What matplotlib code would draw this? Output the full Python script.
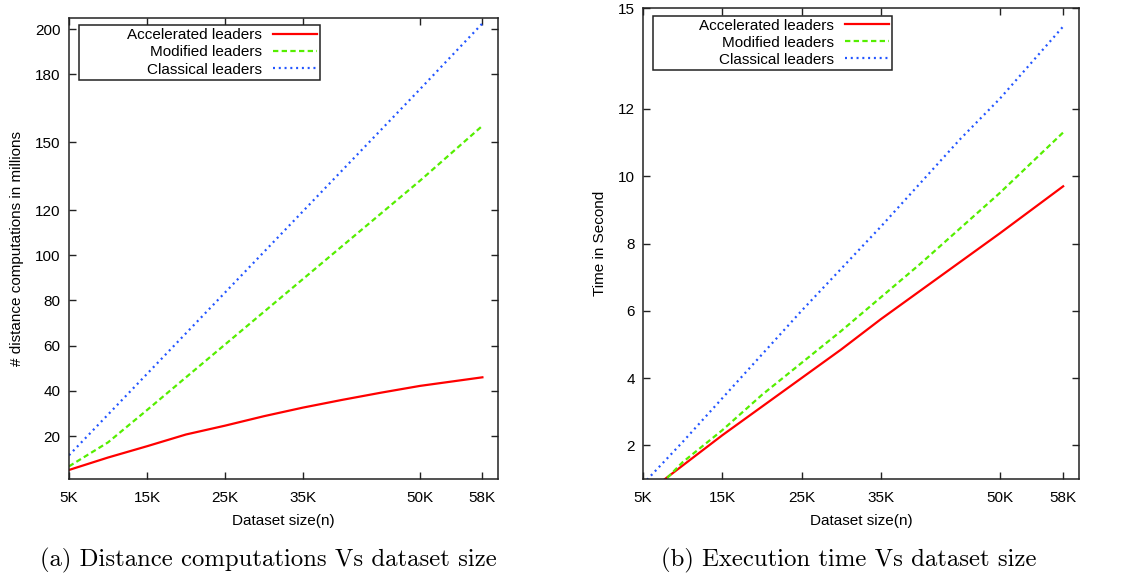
import matplotlib
matplotlib.use("Agg")
import matplotlib.pyplot as plt
from matplotlib.patches import Rectangle

plt.rcParams['font.family'] = ['Liberation Sans', 'DejaVu Sans']

# dataset sizes (in K)
sizes = [5, 10, 15, 20, 25, 30, 35, 40, 45, 50, 58]
xticks = [5, 15, 25, 35, 50, 58]
xticklabels = ["5K", "15K", "25K", "35K", "50K", "58K"]

# (a) distance computations in millions
dist_accel = [5.0, 10.5, 15.5, 20.7, 24.6, 28.8, 32.6, 36.0, 39.2, 42.2, 46.0]
dist_modif = [6.6, 17.2, 31.5, 46.0, 60.5, 75.0, 89.5, 104.0, 118.5, 133.0, 157.3]
dist_class = [11.5, 29.5, 47.5, 65.5, 83.5, 101.5, 119.5, 137.5, 155.5, 173.5, 202.6]
dist_yticks = [20, 40, 60, 80, 100, 120, 150, 180, 200]

# (b) execution time in seconds
time_accel = [0.5, 1.4, 2.3, 3.15, 4.0, 4.85, 5.75, 6.6, 7.45, 8.3, 9.7]
time_modif = [0.3, 1.5, 2.45, 3.5, 4.45, 5.4, 6.4, 7.4, 8.45, 9.5, 11.3]
time_class = [0.85, 2.1, 3.4, 4.7, 6.0, 7.25, 8.5, 9.8, 11.1, 12.3, 14.45]
time_yticks = [2, 4, 6, 8, 10, 12, 15]

labels = ["Accelerated leaders", "Modified leaders", "Classical leaders"]
colors = ["#ff0000", "#55ee00", "#2255ff"]
styles = ["-", (0, (2.4, 1.5)), (0, (0.9, 1.7))]

W, H = 1123, 580
fig = plt.figure(figsize=(W / 100, H / 100), dpi=100)
edge = "#222222"


def panel(rect, ys, yticks, ylim, ylabel, caption, cap_x, key_x):
    l, t, r, b = rect
    ax = fig.add_axes([l / W, 1 - b / H, (r - l) / W, (b - t) / H])
    for y, lab, c, ls in zip(ys, labels, colors, styles):
        ax.plot(sizes, y, color=c, linestyle=ls, linewidth=1.6, label=lab)
    ax.set_xlim(5, 60)
    ax.set_ylim(*ylim)
    ax.set_xticks(xticks)
    ax.set_xticklabels(xticklabels)
    ax.set_yticks(yticks)
    ax.tick_params(direction="in", length=5, width=1, top=True, right=True,
                   labelsize=11, color=edge)
    ax.tick_params(axis="x", pad=9)
    ax.tick_params(axis="y", pad=6)
    for s in ax.spines.values():
        s.set_linewidth(1.1)
        s.set_color(edge)
    ax.set_xlabel("Dataset size(n)", fontsize=11, labelpad=6)
    ax.set_ylabel(ylabel, fontsize=11, labelpad=8)
    leg = ax.legend(loc="upper right", bbox_to_anchor=(key_x, 0.984),
                    markerfirst=False, fontsize=11,
                    handlelength=2.9, handletextpad=0.7, labelspacing=0.2,
                    borderpad=0.2, borderaxespad=0, fancybox=False,
                    framealpha=1)
    fig.text(cap_x / W, 1 - 560 / H, caption, fontfamily="cmr10",
             fontsize=17.8, ha="center", va="center")
    return ax, leg


panels = [
    panel((69, 18, 498, 479), [dist_accel, dist_modif, dist_class], dist_yticks,
          (1, 205), "# distance computations in millions",
          "(a) Distance computations Vs dataset size", 268, 0.585),
    panel((643, 8, 1079, 479), [time_accel, time_modif, time_class], time_yticks,
          (1, 15), "Time in Second",
          "(b) Execution time Vs dataset size", 849, 0.572),
]

# gnuplot-style key box: wider on the left than the packed legend
fig.canvas.draw()
renderer = fig.canvas.get_renderer()
for ax, leg in panels:
    fb = leg.get_frame().get_window_extent(renderer)
    axb = ax.get_window_extent(renderer)
    x0 = axb.x0 + 9.6
    leg.set_frame_on(False)
    box = Rectangle((x0, fb.y0), fb.x1 - x0, fb.height, transform=None,
                    facecolor="white", edgecolor=edge, linewidth=1.1,
                    zorder=4.9, clip_on=False)
    ax.add_artist(box)
    leg.set_zorder(5)

fig.savefig("out.png", dpi=100)
